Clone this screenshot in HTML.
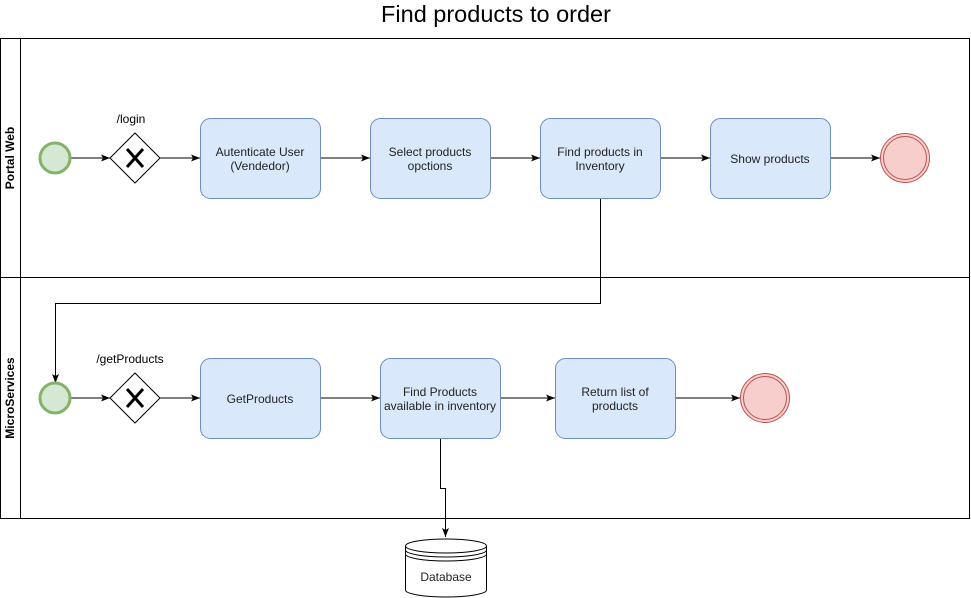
<!DOCTYPE html>
<html><head><meta charset="utf-8"><style>html,body{margin:0;padding:0;background:#fff}svg{display:block}</style></head>
<body>
<svg width="971" height="598" viewBox="0 0 971 598" xmlns="http://www.w3.org/2000/svg" font-family="Liberation Sans, Arial, sans-serif">
<defs><marker id="a" markerWidth="10" markerHeight="8" refX="9" refY="4" orient="auto" markerUnits="userSpaceOnUse"><path d="M0,0.5 L9,4 L0,7.5 L2,4 Z" fill="#000"/></marker></defs>
<text x="496" y="22" font-size="23.5" text-anchor="middle" fill="#000">Find products to order</text>
<rect x="0.5" y="38.5" width="969" height="480" fill="none" stroke="#000"/>
<line x1="20.5" y1="38" x2="20.5" y2="518" stroke="#000"/>
<line x1="0" y1="277.5" x2="970" y2="277.5" stroke="#000"/>
<text transform="translate(14,158) rotate(-90)" font-size="12" font-weight="bold" text-anchor="middle">Portal Web</text>
<text transform="translate(14,398) rotate(-90)" font-size="12" font-weight="bold" text-anchor="middle">MicroServices</text>
<g stroke="#000" fill="none">
<line x1="70" y1="158" x2="110" y2="158" marker-end="url(#a)"/>
<line x1="160" y1="158" x2="200" y2="158" marker-end="url(#a)"/>
<line x1="320" y1="158" x2="370" y2="158" marker-end="url(#a)"/>
<line x1="490" y1="158" x2="540" y2="158" marker-end="url(#a)"/>
<line x1="660" y1="158" x2="710" y2="158" marker-end="url(#a)"/>
<line x1="830" y1="158" x2="880" y2="158" marker-end="url(#a)"/>
<polyline points="600.5,198 600.5,303.5 55.5,303.5 55.5,383" marker-end="url(#a)"/>
<line x1="70" y1="398" x2="110" y2="398" marker-end="url(#a)"/>
<line x1="160" y1="398" x2="200" y2="398" marker-end="url(#a)"/>
<line x1="320" y1="398" x2="380" y2="398" marker-end="url(#a)"/>
<line x1="500" y1="398" x2="555" y2="398" marker-end="url(#a)"/>
<line x1="675" y1="398" x2="740" y2="398" marker-end="url(#a)"/>
<polyline points="440.5,438 440.5,488.5 445.5,488.5 445.5,537" marker-end="url(#a)"/>
</g>
<circle cx="55" cy="158" r="15" fill="#d5e8d4" stroke="#82b366" stroke-width="3"/>
<circle cx="55" cy="398" r="15" fill="#d5e8d4" stroke="#82b366" stroke-width="3"/>
<g stroke="#000" fill="#fff">
<polygon points="135,133 160,158 135,183 110,158"/>
<polygon points="135,373 160,398 135,423 110,398"/>
</g>
<g stroke="#000" stroke-width="3">
<line x1="127" y1="149" x2="143" y2="167"/><line x1="143" y1="149" x2="127" y2="167"/>
<line x1="127" y1="389" x2="143" y2="407"/><line x1="143" y1="389" x2="127" y2="407"/>
</g>
<text x="131" y="123" font-size="12" text-anchor="middle">/login</text>
<text x="130" y="363" font-size="12" text-anchor="middle">/getProducts</text>
<g fill="#dae8fc" stroke="#6c8ebf">
<rect x="200.5" y="118.5" width="120" height="80" rx="10"/>
<rect x="370.5" y="118.5" width="120" height="80" rx="10"/>
<rect x="540.5" y="118.5" width="120" height="80" rx="10"/>
<rect x="710.5" y="118.5" width="120" height="80" rx="10"/>
<rect x="200.5" y="358.5" width="120" height="80" rx="10"/>
<rect x="380.5" y="358.5" width="120" height="80" rx="10"/>
<rect x="555.5" y="358.5" width="120" height="80" rx="10"/>
</g>
<g font-size="12" text-anchor="middle" fill="#222">
<text x="260" y="156">Autenticate User</text><text x="260" y="170">(Vendedor)</text>
<text x="430" y="156">Select products</text><text x="430" y="170">opctions</text>
<text x="600" y="156">Find products in</text><text x="600" y="170">Inventory</text>
<text x="770" y="163">Show products</text>
<text x="260" y="403">GetProducts</text>
<text x="440" y="396">Find Products</text><text x="440" y="410">available in inventory</text>
<text x="615" y="396">Return list of</text><text x="615" y="410">products</text>
</g>
<g fill="#f8cecc" stroke="#b85450">
<circle cx="905" cy="158" r="24.5"/><circle cx="905" cy="158" r="21.5"/>
<circle cx="765" cy="398" r="24.5"/><circle cx="765" cy="398" r="21.5"/>
</g>
<g stroke="#000" fill="#fff">
<path d="M405.5,546 L405.5,590 A40.5,7 0 0 0 486.5,590 L486.5,546"/>
<ellipse cx="446" cy="546" rx="40.5" ry="7"/>
<path d="M405.5,550 A40.5,7 0 0 0 486.5,550" fill="none"/>
<path d="M405.5,554 A40.5,7 0 0 0 486.5,554" fill="none"/>
</g>
<text x="446" y="581" font-size="12" text-anchor="middle" fill="#222">Database</text>
</svg>
</body></html>
